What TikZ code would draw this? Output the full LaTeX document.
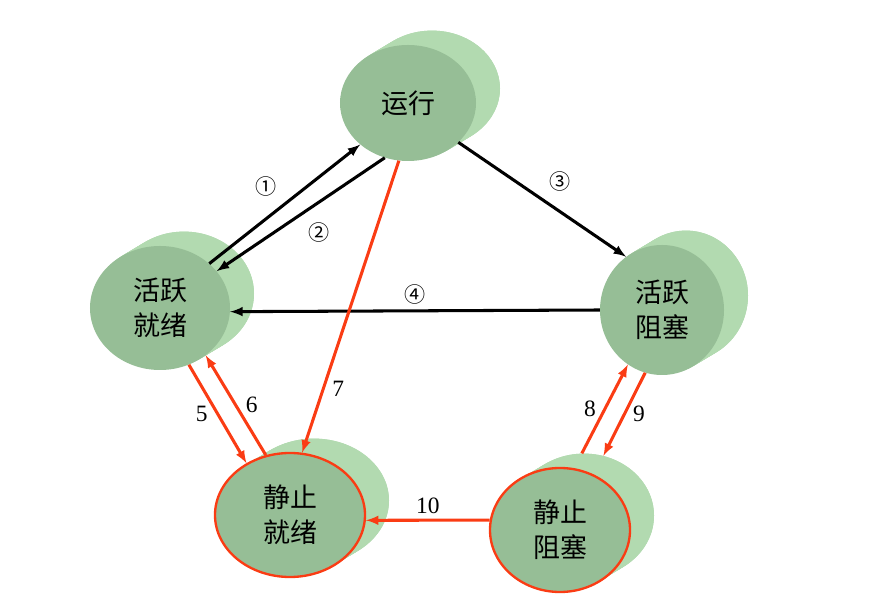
\documentclass[tikz,border=0pt]{standalone}
\usepackage{fontspec}
\setmainfont{Liberation Serif}
\newfontfamily\cjk{Noto Sans CJK SC}
\usetikzlibrary{shapes.geometric}
\definecolor{frontgreen}{RGB}{150,190,150}
\definecolor{backgreen}{RGB}{178,218,176}
\definecolor{arrowred}{RGB}{250,60,20}
\begin{document}
\begin{tikzpicture}[
    x=0.03cm, y=-0.03cm,
    front/.style={ellipse, fill=frontgreen, inner sep=0pt, align=center,
        font=\cjk\fontsize{23}{30}\selectfont},
    back/.style={ellipse, fill=backgreen, inner sep=0pt},
    redring/.style={draw=arrowred, line width=2pt},
    blk/.style={-latex, line width=2.6pt, black},
    red/.style={-latex, line width=2.6pt, draw=arrowred},
    num/.style={font=\fontsize{20}{20}\selectfont},
    circ/.style={font=\cjk\fontsize{18}{18}\selectfont}
]
    \useasboundingbox (0,0) rectangle (886,601);

    % cylinders: back layers, then front faces
    \foreach \n/\x/\y/\w/\h in {run/408/103/136/116, ar/160/308/140/124, ab/662/310/124/130,
                                sr/290/515/150/124, sb/560/530/140/124} {
        \foreach \t in {24,22,...,2}
            \node[back, minimum width=\w*0.03cm, minimum height=\h*0.03cm] at (\x+\t,\y-0.6*\t) {};
        \node[back, minimum width=\w*0.03cm, minimum height=\h*0.03cm] (\n-b) at (\x+24,\y-14.4) {};
    }
    \node[front, minimum width=4.08cm, minimum height=3.48cm] (run) at (408,103) {运行};
    \node[front, minimum width=4.2cm, minimum height=3.72cm] (ar) at (160,308) {活跃\\就绪};
    \node[front, minimum width=3.72cm, minimum height=3.9cm] (ab) at (662,310) {活跃\\阻塞};
    \node[front, redring, minimum width=4.5cm, minimum height=3.72cm] (sr) at (290,515) {静止\\就绪};
    \node[front, redring, minimum width=4.2cm, minimum height=3.72cm] (sb) at (560,530) {静止\\阻塞};

    % black transitions
    \draw[blk] (ar.42) -- node[circ, above left=2pt] {①} (run.-139);
    \draw[blk] (run.-113) -- node[circ, below right=2pt] {②} (ar.33);
    \draw[blk] (run.-38) -- node[circ, above right=2pt] {③} (ab.124);
    \draw[blk] (ab.180) -- node[circ, above=1pt] {④} (ar.-3);

    % red transitions
    \draw[red] (run.-99) -- node[num, pos=0.78, right=3pt] {7} (sr.79);
    \draw[red] (ar.-63) -- node[num, left=4pt] {5} (sr.130);
    \draw[red] (sr.112) -- node[num, right=4pt] {6} (ar.-46);
    \draw[red] (sb-b.92) -- node[num, left=3pt] {8} (ab.-122);
    \draw[red] (ab.-105) -- node[num, right=3pt] {9} (sb-b.72);
    \draw[red] (sb.172) -- node[num, above=1pt] {10} (sr.-4);
\end{tikzpicture}
\end{document}
